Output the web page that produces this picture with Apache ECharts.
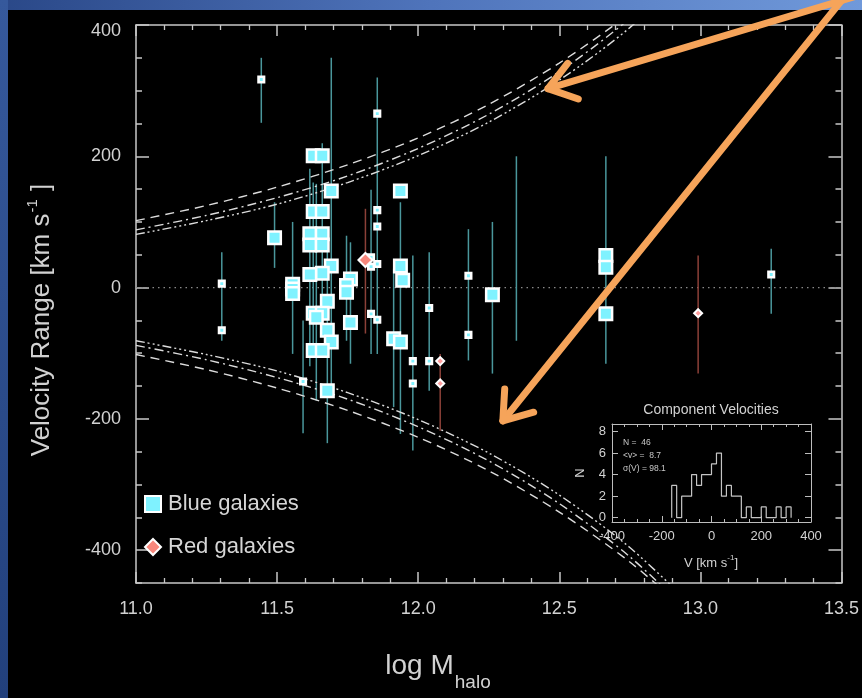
<!DOCTYPE html>
<html>
<head>
<meta charset="utf-8">
<script src="https://cdn.jsdelivr.net/npm/echarts@6/dist/echarts.min.js"></script>
<style>
  html, body { margin: 0; padding: 0; background: #000; }
  #chart { width: 862px; height: 698px; }
</style>
</head>
<body>
<div id="chart"></div>
<script>
// ---- Component velocities vs. halo mass ----
// blue galaxies, strong components: [log Mhalo, velocity]
const blueLarge = [
  [11.628, 201], [11.660, 201], [11.692, 147], [11.628, 116], [11.660, 116], [11.491, 76],
  [11.616, 82], [11.660, 82], [11.616, 65], [11.660, 65], [11.692, 33], [11.660, 22], [11.616, 20],
  [11.555, 5], [11.555, -2], [11.555, -9], [11.760, 13], [11.746, 3], [11.746, -7],
  [11.678, -21], [11.628, -39], [11.660, -39], [11.639, -45], [11.678, -65], [11.692, -83],
  [11.760, -53], [11.913, -78], [11.937, -83], [11.628, -96], [11.660, -96], [11.678, -157],
  [11.937, 147], [11.937, 33], [11.945, 11], [12.263, -11], [12.665, 49], [12.665, 31], [12.665, -40]
];
// blue galaxies, weak components
const blueSmall = [
  [11.304, 6], [11.304, -65], [11.444, 317], [11.592, -143], [11.855, 265], [11.855, 118], [11.855, 93],
  [11.855, 36], [11.833, 46], [11.833, 32], [11.833, -40], [11.855, -49], [11.981, -112], [11.981, -146],
  [12.039, -31], [12.039, -112], [12.178, 18], [12.178, -72], [13.251, 20]
];
const redLarge = [[11.813, 42]];
const redSmall = [[12.078, -112], [12.078, -146], [12.992, -39]];

// velocity ranges spanned by the absorption: [log Mhalo, low, high]
const blueRange = [
  [11.304, -81, 54], [11.444, 251, 350], [11.491, 30, 130], [11.555, -101, 100], [11.592, -222, -50],
  [11.616, -120, 181], [11.628, -100, 160], [11.639, -172, 158], [11.660, -60, 220], [11.678, -237, 60],
  [11.692, -167, 350], [11.746, -81, 79], [11.760, -116, 69], [11.833, -101, 149], [11.855, -101, 320],
  [11.913, -182, 29], [11.937, -223, 130], [11.981, -248, 49], [12.039, -157, 54], [12.178, -111, 89],
  [12.263, -131, 100], [12.348, -81, 200], [12.665, -116, 200], [13.251, -40, 59]
];
const redRange = [[11.813, -70, 120], [12.078, -218, -101], [12.992, -131, 49]];

// escape-velocity envelopes (symmetric about zero)
const envMass = [11.0, 11.25, 11.5, 11.75, 12.0, 12.25, 12.5, 12.75, 13.0];
const envDashed = [102, 125, 153, 187, 228, 279, 342, 418, 511];
const envDashDot = [88, 110, 137, 170, 212, 264, 329, 410, 511];
const envDash3Dot = [81, 102, 127, 160, 201, 252, 316, 396, 497];

// main axis ticks
const velTicks = [-400, -200, 0, 200, 400];

// inset histogram: left bin edges (20 km/s bins) and counts
const histEdges = [-160, -140, -120, -100, -80, -60, -40, -20, 0, 20, 40, 60, 80, 100, 120, 140, 160, 180, 200, 220, 240, 260, 280, 300];
const histCounts = [3, 0, 2, 2, 4, 3, 4, 4, 5, 6, 2, 3, 2, 2, 0, 1, 0, 0, 1, 0, 0, 1, 0, 1];
const histBinWidth = 20;
const insetYTicks = [0, 2, 4, 6, 8];
const insetStats = ['N =  46', '<v> =  8.7', 'σ(V) = 98.1'];

// annotation arrows, in data coordinates of the main panel
const arrows = [
  { tail: [13.546, 443], tip: [12.46, 303] },
  { tail: [13.511, 443], tip: [12.30, -203] }
];

const FONT = '"Liberation Sans", Arial, Helvetica, sans-serif';
const AX = '#c8c8c8';
const TXT = '#d2d2d2';
const TEAL = '#4a979c';
const RUST = '#8c4038';

const chart = echarts.init(document.getElementById('chart'));

function envelope(name, vals, sign, dash) {
  return {
    type: 'line', name: name, xAxisIndex: 0, yAxisIndex: 0,
    data: envMass.map((m, i) => [m, sign * vals[i]]),
    symbol: 'none', smooth: 0.3, clip: true, silent: true, z: 3,
    lineStyle: { color: '#dcdcdc', width: 1.4, type: dash }
  };
}

function rangeSeries(name, data, color) {
  return {
    type: 'custom', name: name, xAxisIndex: 0, yAxisIndex: 0, data: data, z: 2, silent: true,
    encode: { x: 0, y: [1, 2] },
    renderItem: function (params, api) {
      const hi = api.coord([api.value(0), api.value(2)]);
      const lo = api.coord([api.value(0), api.value(1)]);
      return { type: 'line', shape: { x1: hi[0], y1: hi[1], x2: lo[0], y2: lo[1] },
               style: { stroke: color, lineWidth: 1.5 } };
    }
  };
}

// histogram outline as a stepped line
const histLine = [[histEdges[0], 0]]
  .concat(histEdges.map((e, i) => [e, histCounts[i]]))
  .concat([[histEdges[histEdges.length - 1] + histBinWidth, 0]]);

const mainTick = { show: true, inside: true, length: 11, lineStyle: { color: AX, width: 1.5 } };
const axLine = { show: true, onZero: false, lineStyle: { color: AX, width: 1.5 } };
const noLabel = { show: false };

chart.setOption({
  backgroundColor: '#000',
  animation: false,
  grid: [
    { left: 136, top: 25, width: 709, height: 558 },
    { left: 612, top: 424, width: 199, height: 98 }
  ],
  xAxis: [
    { gridIndex: 0, type: 'value', min: 11, max: 13.5, interval: 0.5, position: 'bottom',
      axisLine: axLine, axisTick: mainTick,
      minorTick: { show: true, splitNumber: 5, length: 5, lineStyle: { color: AX, width: 1.3 } },
      axisLabel: { color: TXT, fontSize: 18, fontFamily: FONT, margin: 17, formatter: v => v.toFixed(1) },
      splitLine: { show: false } },
    { gridIndex: 0, type: 'value', min: 11, max: 13.5, interval: 0.5, position: 'top',
      axisLine: axLine, axisTick: mainTick,
      minorTick: { show: true, splitNumber: 5, length: 5, lineStyle: { color: AX, width: 1.3 } },
      axisLabel: noLabel, splitLine: { show: false } },
    { gridIndex: 1, type: 'value', min: -400, max: 400, interval: 200, position: 'bottom',
      axisLine: { show: true, onZero: false, lineStyle: { color: '#bdbdbd', width: 1 } },
      axisTick: { show: true, inside: true, length: 6, lineStyle: { color: '#bdbdbd' } },
      minorTick: { show: true, splitNumber: 4, length: 3, lineStyle: { color: '#bdbdbd' } },
      axisLabel: { color: TXT, fontSize: 13, fontFamily: FONT, margin: 8 },
      splitLine: { show: false } },
    { gridIndex: 1, type: 'value', min: -400, max: 400, interval: 200, position: 'top',
      axisLine: { show: true, onZero: false, lineStyle: { color: '#bdbdbd', width: 1 } },
      axisTick: { show: true, inside: true, length: 6, lineStyle: { color: '#bdbdbd' } },
      minorTick: { show: true, splitNumber: 4, length: 3, lineStyle: { color: '#bdbdbd' } },
      axisLabel: noLabel, splitLine: { show: false } }
  ],
  yAxis: [
    { gridIndex: 0, type: 'value', min: -450, max: 400, position: 'left',
      axisLine: axLine,
      axisTick: Object.assign({}, mainTick, { length: 13, customValues: velTicks }),
      axisLabel: { customValues: velTicks, color: TXT, fontSize: 18, fontFamily: FONT, margin: 15,
        formatter: v => (v === velTicks[velTicks.length - 1] ? '{top|' + v + '}' : String(v)),
        rich: { top: { color: TXT, fontSize: 18, fontFamily: FONT, padding: [13, 0, 0, 0] } } },
      splitLine: { show: false } },
    { gridIndex: 0, type: 'value', min: -450, max: 400, interval: 50, position: 'left',
      axisLine: { show: false }, axisTick: Object.assign({}, mainTick, { length: 6 }),
      axisLabel: noLabel, splitLine: { show: false } },
    { gridIndex: 0, type: 'value', min: -450, max: 400, position: 'right',
      axisLine: axLine,
      axisTick: Object.assign({}, mainTick, { length: 13, customValues: velTicks }),
      axisLabel: Object.assign({ customValues: velTicks }, noLabel), splitLine: { show: false } },
    { gridIndex: 0, type: 'value', min: -450, max: 400, interval: 50, position: 'right',
      axisLine: { show: false }, axisTick: Object.assign({}, mainTick, { length: 6 }),
      axisLabel: noLabel, splitLine: { show: false } },
    { gridIndex: 1, type: 'value', min: -0.4, max: 8.7, position: 'left',
      axisLine: { show: true, onZero: false, lineStyle: { color: '#bdbdbd', width: 1 } },
      axisTick: { show: true, inside: true, length: 6, customValues: insetYTicks, lineStyle: { color: '#bdbdbd' } },
      axisLabel: { customValues: insetYTicks, color: TXT, fontSize: 13, fontFamily: FONT, margin: 6 },
      splitLine: { show: false } },
    { gridIndex: 1, type: 'value', min: -0.4, max: 8.7, position: 'right',
      axisLine: { show: true, onZero: false, lineStyle: { color: '#bdbdbd', width: 1 } },
      axisTick: { show: true, inside: true, length: 6, customValues: insetYTicks, lineStyle: { color: '#bdbdbd' } },
      axisLabel: { show: false, customValues: insetYTicks }, splitLine: { show: false } }
  ],
  legend: {
    orient: 'vertical', left: 139, top: 488, itemWidth: 16, itemHeight: 16, itemGap: 21,
    data: ['Blue galaxies', 'Red galaxies'],
    textStyle: { color: '#d6d6d6', fontSize: 22, fontFamily: FONT, padding: [0, 0, 0, 2] }
  },
  series: [
    { type: 'line', name: 'zero', xAxisIndex: 0, yAxisIndex: 0, symbol: 'none', silent: true, z: 1,
      data: [[11, 0], [13.5, 0]], lineStyle: { color: '#8a8a8a', width: 1.3, type: [1.5, 4] } },
    envelope('env-dashed-up', envDashed, 1, [9, 6]),
    envelope('env-dashdot-up', envDashDot, 1, [9, 4, 2, 4]),
    envelope('env-dash3dot-up', envDash3Dot, 1, [9, 3, 2, 3, 2, 3, 2, 3]),
    envelope('env-dashed-dn', envDashed, -1, [9, 6]),
    envelope('env-dashdot-dn', envDashDot, -1, [9, 4, 2, 4]),
    envelope('env-dash3dot-dn', envDash3Dot, -1, [9, 3, 2, 3, 2, 3, 2, 3]),
    rangeSeries('blue-range', blueRange, TEAL),
    rangeSeries('red-range', redRange, RUST),
    { type: 'scatter', name: 'Blue galaxies', xAxisIndex: 0, yAxisIndex: 0, data: blueLarge, z: 5,
      symbol: 'rect', symbolSize: 12.5,
      itemStyle: { color: '#7ff2ff', borderColor: '#ffffff', borderWidth: 2.5, opacity: 1 } },
    { type: 'scatter', name: 'Blue galaxies', xAxisIndex: 0, yAxisIndex: 0, data: blueSmall, z: 5,
      symbol: 'rect', symbolSize: 5.5,
      itemStyle: { color: '#7ff2ff', borderColor: '#ffffff', borderWidth: 2.6, opacity: 1 } },
    { type: 'scatter', name: 'Red galaxies', xAxisIndex: 0, yAxisIndex: 0, data: redLarge, z: 5,
      symbol: 'diamond', symbolSize: 14,
      itemStyle: { color: '#f8877c', borderColor: '#ffffff', borderWidth: 2, opacity: 1 } },
    { type: 'scatter', name: 'Red galaxies', xAxisIndex: 0, yAxisIndex: 0, data: redSmall, z: 5,
      symbol: 'diamond', symbolSize: 8,
      itemStyle: { color: '#ff9c9c', borderColor: '#ffffff', borderWidth: 2, opacity: 1 } },
    { type: 'line', name: 'histogram', xAxisIndex: 2, yAxisIndex: 4, data: histLine, step: 'end',
      symbol: 'none', silent: true, z: 4, lineStyle: { color: '#c4c4c4', width: 1.2 } }
  ]
});

// ---- annotations: frame, axis titles, inset labels, arrows ----
const g = [];
g.push({ type: 'rect', z: -10, silent: true, shape: { x: 0, y: 0, width: 862, height: 10 },
  style: { fill: new echarts.graphic.LinearGradient(0, 0, 1, 0, [
    { offset: 0, color: '#2a4888' }, { offset: 0.5, color: '#4f74bb' }, { offset: 1, color: '#7099da' }]) } });
g.push({ type: 'rect', z: -10, silent: true, shape: { x: 0, y: 0, width: 8, height: 698 },
  style: { fill: new echarts.graphic.LinearGradient(0, 0, 0, 1, [
    { offset: 0, color: '#36599c' }, { offset: 1, color: '#22407c' }]) } });

g.push({ type: 'text', z: 20, x: 40, y: 320, rotation: Math.PI / 2, silent: true,
  style: { text: '{a|Velocity Range [km s}{b|-1}{a| ]}', align: 'center', verticalAlign: 'middle',
    rich: { a: { fontSize: 26, fontFamily: FONT, fill: TXT, lineHeight: 30, verticalAlign: 'bottom' },
            b: { fontSize: 15, fontFamily: FONT, fill: TXT, lineHeight: 30, verticalAlign: 'top', padding: [0, 1, 0, 1] } } } });
g.push({ type: 'text', z: 20, x: 438, y: 669, silent: true,
  style: { text: '{a|log M}{b|halo}', align: 'center', verticalAlign: 'middle',
    rich: { a: { fontSize: 28, fontFamily: FONT, fill: TXT, lineHeight: 34, verticalAlign: 'top' },
            b: { fontSize: 19, fontFamily: FONT, fill: TXT, lineHeight: 34, verticalAlign: 'bottom', padding: [0, 0, -6, 1] } } } });

g.push({ type: 'text', z: 20, x: 711, y: 410, silent: true,
  style: { text: 'Component Velocities', fontSize: 14, fontFamily: FONT, fill: TXT, align: 'center', verticalAlign: 'middle' } });
g.push({ type: 'text', z: 20, x: 580, y: 473, rotation: Math.PI / 2, silent: true,
  style: { text: 'N', fontSize: 13, fontFamily: FONT, fill: TXT, align: 'center', verticalAlign: 'middle' } });
g.push({ type: 'text', z: 20, x: 711, y: 562, silent: true,
  style: { text: '{a|V [km s}{b|-1}{a|]}', align: 'center', verticalAlign: 'middle',
    rich: { a: { fontSize: 13, fontFamily: FONT, fill: TXT, lineHeight: 16, verticalAlign: 'bottom' },
            b: { fontSize: 8, fontFamily: FONT, fill: TXT, lineHeight: 16, verticalAlign: 'top' } } } });
insetStats.forEach((s, i) => {
  g.push({ type: 'text', z: 20, x: 623, y: 443 + i * 13, silent: true,
    style: { text: s, fontSize: 8.5, fontFamily: FONT, fill: '#c8c8c8', align: 'left', verticalAlign: 'middle' } });
});

const ORANGE = '#f6a45a';
arrows.forEach(a => {
  const p0 = chart.convertToPixel({ gridIndex: 0 }, a.tail);
  const p1 = chart.convertToPixel({ gridIndex: 0 }, a.tip);
  const dx = p0[0] - p1[0], dy = p0[1] - p1[1];
  const len = Math.hypot(dx, dy);
  const ux = dx / len, uy = dy / len;
  const wing = 32, ang = 0.62;
  const w1 = [p1[0] + wing * (ux * Math.cos(ang) - uy * Math.sin(ang)), p1[1] + wing * (ux * Math.sin(ang) + uy * Math.cos(ang))];
  const w2 = [p1[0] + wing * (ux * Math.cos(-ang) - uy * Math.sin(-ang)), p1[1] + wing * (ux * Math.sin(-ang) + uy * Math.cos(-ang))];
  const st = { stroke: ORANGE, lineWidth: 7, lineCap: 'round', lineJoin: 'round', fill: null };
  g.push({ type: 'polyline', z: 30, silent: true, shape: { points: [p0, p1] }, style: st });
  g.push({ type: 'polyline', z: 30, silent: true, shape: { points: [w1, p1, w2] }, style: st });
});

chart.setOption({ graphic: g });
</script>
</body>
</html>
